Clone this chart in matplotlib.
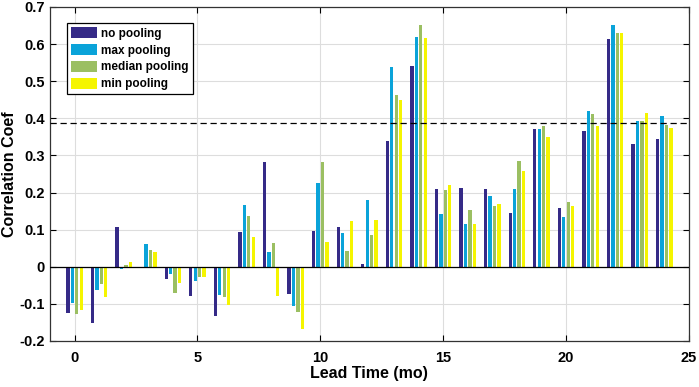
import matplotlib.pyplot as plt
import numpy as np

plt.rcParams['font.family'] = ['Liberation Sans', 'DejaVu Sans']
plt.rcParams['font.weight'] = 'bold'

lead = np.arange(25)
no_pool = [-0.125, -0.152, 0.106, 0.0, -0.034, -0.079, -0.132, 0.094, 0.281, -0.073,
           0.096, 0.106, 0.008, 0.340, 0.541, 0.210, 0.212, 0.209, 0.145, 0.370,
           0.157, 0.367, 0.615, 0.331, 0.345]
max_pool = [-0.098, -0.063, -0.007, 0.061, -0.020, -0.038, -0.076, 0.166, 0.039, -0.107,
            0.226, 0.091, 0.179, 0.539, 0.618, 0.141, 0.115, 0.191, 0.209, 0.370,
            0.134, 0.421, 0.652, 0.394, 0.406]
median_pool = [-0.127, -0.047, 0.006, 0.045, -0.072, -0.027, -0.081, 0.136, 0.063, -0.121,
               0.283, 0.042, 0.085, 0.464, 0.652, 0.206, 0.152, 0.164, 0.285, 0.379,
               0.175, 0.412, 0.630, 0.394, 0.383]
min_pool = [-0.116, -0.082, 0.012, 0.040, -0.045, -0.027, -0.103, 0.081, -0.078, -0.167,
            0.067, 0.124, 0.126, 0.450, 0.616, 0.220, 0.114, 0.168, 0.259, 0.349,
            0.163, 0.379, 0.630, 0.414, 0.375]
threshold = 0.388

series = [
    ('no pooling', no_pool, '#352a87'),
    ('max pooling', max_pool, '#0aa3d9'),
    ('median pooling', median_pool, '#9bbf62'),
    ('min pooling', min_pool, '#f5f500'),
]

fig = plt.figure(figsize=(6.99, 3.87), dpi=100)
ax = fig.add_axes([0.0715, 0.119, 0.914, 0.863])

step = 0.18
for i, (name, vals, col) in enumerate(series):
    ax.bar(lead + (i - 1.5) * step, vals, width=0.13, color=col, label=name, zorder=3)

ax.axhline(0, color='black', lw=0.9, zorder=4)
ax.axhline(threshold, color='black', lw=0.9, ls=(0, (5, 3)), zorder=4)

ax.set_xlim(-1, 25)
ax.set_ylim(-0.2, 0.7)
ax.set_xticks([0, 5, 10, 15, 20, 25])
ax.set_yticks(np.round(np.arange(-0.2, 0.71, 0.1), 1))
ax.set_yticklabels(['-0.2', '-0.1', '0', '0.1', '0.2', '0.3', '0.4', '0.5', '0.6', '0.7'])
ax.grid(True, color='#dddddd', lw=0.8, zorder=0)
ax.tick_params(direction='in', top=True, right=True, labelsize=10.5, length=4, width=0.8)
ax.tick_params(axis='x', pad=7)
for s in ax.spines.values():
    s.set_linewidth(0.9)
    s.set_color('#333333')

ax.set_xlabel('Lead Time (mo)', fontsize=11.5, fontweight='bold', labelpad=1)
ax.set_ylabel('Correlation Coef', fontsize=11.5, fontweight='bold', labelpad=2)

leg = ax.legend(loc='upper left', bbox_to_anchor=(0.027, 0.952), fontsize=8.5,
                frameon=True, fancybox=False, edgecolor='black', framealpha=1,
                handlelength=2.2, handleheight=1.1, handletextpad=0.3,
                labelspacing=0.35, borderpad=0.35, borderaxespad=0)
leg.get_frame().set_linewidth(0.9)

fig.savefig('out.png', dpi=100)
